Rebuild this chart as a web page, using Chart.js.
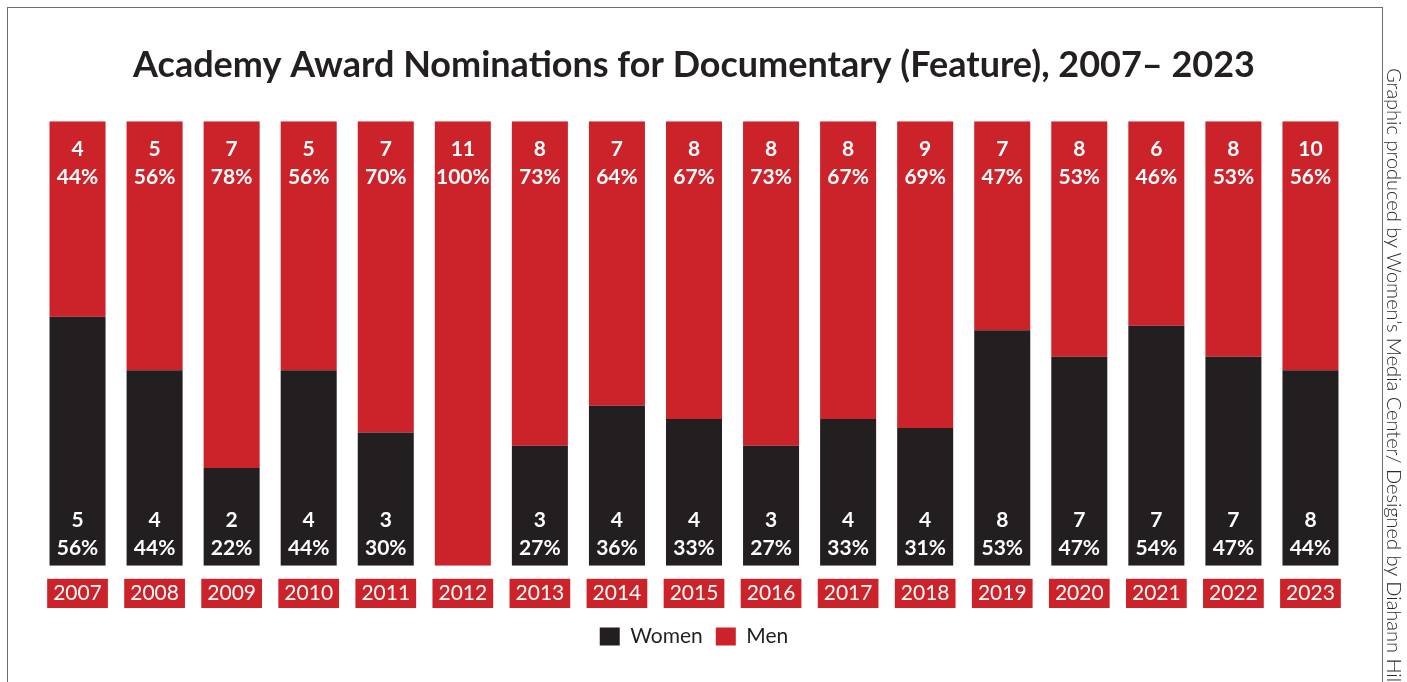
<!DOCTYPE html>
<html>
<head>
<meta charset="utf-8">
<title>Academy Award Nominations for Documentary (Feature)</title>
<script src="https://cdn.jsdelivr.net/npm/chart.js@4"></script>
<style>
  body { margin: 0; background: #fff; width: 1407px; height: 682px; overflow: hidden; position: relative; }
  #frame { position: absolute; left: 7px; top: 7px; width: 1374px; height: 700px; border: 1px solid #6d6d6d; }
  #chart-wrap { position: absolute; left: 0; top: 0; width: 1407px; height: 682px; }
  #credit {
    position: absolute; left: 1383px; top: 68px; width: 24px; height: 660px;
    writing-mode: vertical-rl; white-space: nowrap;
    font-family: Lato, sans-serif; font-weight: 300; font-size: 20px; color: #2a2a2a;
    line-height: 24px;
  }
</style>
</head>
<body>
<div id="frame"></div>
<div id="chart-wrap"><canvas id="awardChart" width="1407" height="682"></canvas></div>
<div id="credit">Graphic produced by Women’s Media Center/ Designed by Diahann Hill</div>
<script>
// Chart data
const years = ["2007", "2008", "2009", "2010", "2011", "2012", "2013", "2014", "2015",
  "2016", "2017", "2018", "2019", "2020", "2021", "2022", "2023"];
const womenCounts = [5, 4, 2, 4, 3, 0, 3, 4, 4, 3, 4, 4, 8, 7, 7, 7, 8];
const menCounts = [4, 5, 7, 5, 7, 11, 8, 7, 8, 8, 8, 9, 7, 8, 6, 8, 10];
const womenPct = [56, 44, 22, 44, 30, 0, 27, 36, 33, 27, 33, 31, 53, 47, 54, 47, 44];
const menPct = [44, 56, 78, 56, 70, 100, 73, 64, 67, 73, 67, 69, 47, 53, 46, 53, 56];

const DARK = "#231f20";
const RED = "#cc2229";

// Draw count + percent inside each bar
const barLabels = {
  id: "barLabels",
  afterDatasetsDraw(chart) {
    const ctx = chart.ctx;
    ctx.save();
    ctx.fillStyle = "#fff";
    ctx.textAlign = "center";
    ctx.textBaseline = "middle";
    ctx.font = "bold 21px Lato, sans-serif";
    chart.data.datasets.forEach((ds, di) => {
      const meta = chart.getDatasetMeta(di);
      meta.data.forEach((bar, i) => {
        if (!ds.counts[i]) return;
        const x = bar.x;
        if (di === 0) {
          ctx.fillText(ds.counts[i], x, bar.base - 46);
          ctx.fillText(ds.data[i] + "%", x, bar.base - 18);
        } else {
          ctx.fillText(ds.counts[i], x, bar.y + 28);
          ctx.fillText(ds.data[i] + "%", x, bar.y + 56);
        }
      });
    });
    ctx.restore();
  },
};

const ctx = document.getElementById("awardChart").getContext("2d");
new Chart(ctx, {
  type: "bar",
  data: {
    labels: years,
    datasets: [
      {
        label: "Women",
        data: womenPct,
        counts: womenCounts,
        backgroundColor: DARK,
      },
      {
        label: "Men",
        data: menPct,
        counts: menCounts,
        backgroundColor: RED,
      },
    ],
  },
  options: {
    responsive: false,
    animation: false,
    barPercentage: 0.727,
    categoryPercentage: 1,
    layout: { padding: { left: 39, right: 58, top: 0, bottom: 25 } },
    scales: {
      x: {
        stacked: true,
        grid: { display: false },
        border: { display: false },
        ticks: {
          color: "#fff",
          font: { family: "Lato, sans-serif", size: 21 },
          padding: 7,
          maxRotation: 0,
          showLabelBackdrop: true,
          backdropColor: RED,
          backdropPadding: { x: 6, y: 2 },
        },
      },
      y: {
        stacked: true,
        display: false,
        min: 0,
        max: 100,
      },
    },
    plugins: {
      title: {
        display: true,
        text: "Academy Award Nominations for Documentary (Feature), 2007– 2023",
        color: DARK,
        font: { family: "Lato, sans-serif", size: 36, weight: "bold" },
        padding: { top: 44, bottom: 34 },
      },
      legend: {
        position: "bottom",
        labels: {
          color: DARK,
          font: { family: "Lato, sans-serif", size: 21 },
          boxWidth: 20,
          boxHeight: 18,
          padding: 13,
        },
      },
      tooltip: { enabled: false },
    },
  },
  plugins: [barLabels],
});
</script>
</body>
</html>
